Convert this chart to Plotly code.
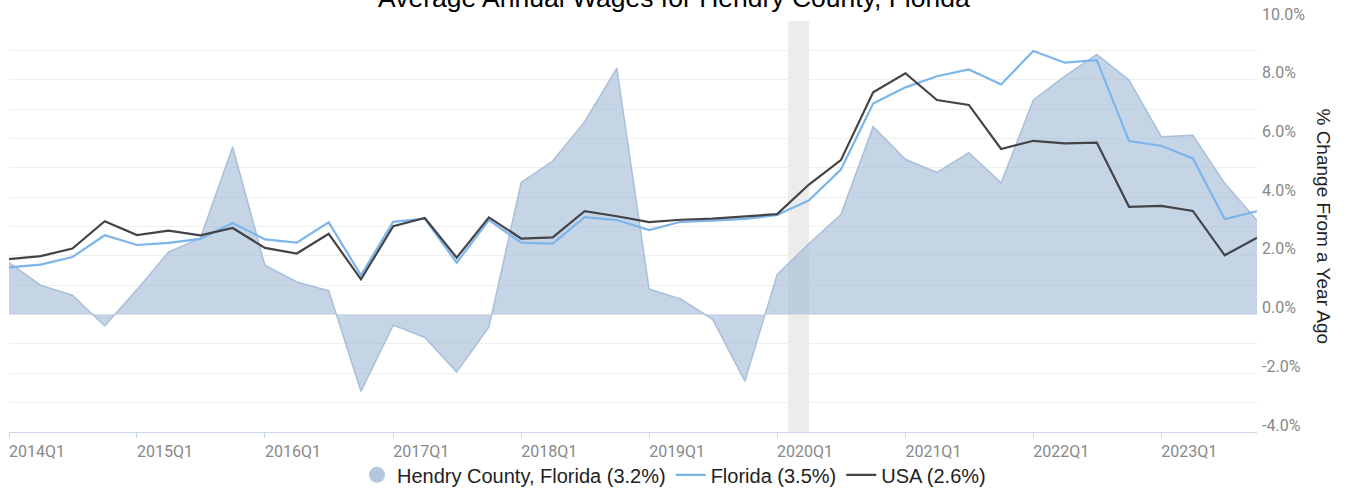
import plotly.graph_objects as go

quarters = [f"{y}-{m:02d}-01" for y in range(2014, 2024) for m in (1, 4, 7, 10)]

hendry = [1.77, 1.00, 0.66, -0.39, 0.85, 2.13, 2.61, 5.71, 1.68, 1.11,
          0.82, -2.62, -0.36, -0.78, -1.96, -0.42, 4.50, 5.23, 6.57, 8.39,
          0.87, 0.53, -0.16, -2.27, 1.36, 2.42, 3.41, 6.40, 5.29, 4.84,
          5.51, 4.49, 7.31, 8.12, 8.86, 7.99, 6.06, 6.11, 4.47, 3.21]

florida = [1.61, 1.70, 1.96, 2.70, 2.37, 2.44, 2.58, 3.12, 2.56, 2.45,
           3.14, 1.34, 3.16, 3.27, 1.77, 3.22, 2.45, 2.42, 3.32, 3.22,
           2.88, 3.16, 3.20, 3.26, 3.39, 3.89, 4.94, 7.19, 7.74, 8.12,
           8.35, 7.84, 8.98, 8.58, 8.67, 5.91, 5.75, 5.32, 3.25, 3.52]

usa = [1.89, 1.99, 2.25, 3.18, 2.71, 2.86, 2.70, 2.95, 2.27, 2.08,
       2.75, 1.20, 3.01, 3.29, 1.94, 3.31, 2.59, 2.63, 3.52, 3.35,
       3.15, 3.23, 3.27, 3.35, 3.42, 4.43, 5.26, 7.57, 8.22, 7.31,
       7.14, 5.64, 5.92, 5.83, 5.86, 3.67, 3.70, 3.53, 2.02, 2.62]

series_names = ["Hendry County, Florida (3.2%)", "Florida (3.5%)", "USA (2.6%)"]

x_tick_vals = [f"{y}-01-01" for y in range(2014, 2024)]
x_tick_text = [f"{y}Q1" for y in range(2014, 2024)]

y_tick_vals = [-4, -2, 0, 2, 4, 6, 8, 10]
y_tick_text = ["-4.0%", "-2.0%", "0.0%", "2.0%", "4.0%", "6.0%", "8.0%", "10.0%"]

recession = ("2020-02-01", "2020-04-01")

title_text = "Average Annual Wages for Hendry County, Florida"
y_title = "% Change From a Year Ago"

FONT = "Roboto"
SANS = "Liberation Sans, Arial, sans-serif"
AREA_FILL = "rgba(160,185,213,0.6)"
AREA_LINE = "rgba(160,185,213,0.85)"
AREA_LEG = "#b5c7dc"
FL_COLOR = "#7cb5ec"
US_COLOR = "#434348"

fig = go.Figure()

fig.add_trace(go.Scatter(
    x=quarters, y=hendry, mode="lines", fill="tozeroy",
    fillcolor=AREA_FILL, line=dict(color=AREA_LINE, width=1.5),
    name=series_names[0], showlegend=False, hoverinfo="skip"))
fig.add_trace(go.Scatter(
    x=[None], y=[None], mode="markers",
    marker=dict(size=16, color=AREA_LEG, symbol="circle"),
    name=series_names[0], legendrank=1))
fig.add_trace(go.Scatter(
    x=quarters, y=florida, mode="lines",
    line=dict(color=FL_COLOR, width=2.2), name=series_names[1], legendrank=2))
fig.add_trace(go.Scatter(
    x=quarters, y=usa, mode="lines",
    line=dict(color=US_COLOR, width=2.2), name=series_names[2], legendrank=3))

fig.add_shape(type="rect", xref="x", yref="paper",
              x0=recession[0], x1=recession[1], y0=0, y1=1,
              fillcolor="#ececec", line=dict(width=0), layer="between")

fig.update_layout(
    width=1348, height=490,
    margin=dict(l=9, r=91, t=21, b=58, pad=0),
    paper_bgcolor="white", plot_bgcolor="white",
    font=dict(family=FONT, color="#333333"),
    showlegend=True,
    legend=dict(orientation="h", xref="container", yref="container",
                x=0.5, xanchor="center", y=0.031, yanchor="middle",
                font=dict(family=SANS, size=20, color="#222222"),
                itemwidth=30, traceorder="normal",
                bgcolor="rgba(0,0,0,0)"),
    xaxis=dict(type="date", range=[quarters[0], quarters[-1]],
               tickvals=x_tick_vals, ticktext=x_tick_text,
               showgrid=False, zeroline=False,
               showline=True, linecolor="#ccd6eb", linewidth=1,
               ticks="outside", ticklen=5, tickcolor="#ccd6eb",
               tickfont=dict(family=FONT, size=16, color="#888888"),
               ticklabelshift=28, automargin=False),
    yaxis=dict(side="right", range=[-4, 10],
               tickvals=y_tick_vals, ticktext=y_tick_text,
               showgrid=True, gridcolor="#efefef", gridwidth=1,
               minor=dict(dtick=1, tick0=0, showgrid=True, gridcolor="#efefef"),
               zeroline=False, showline=False, ticks="",
               tickfont=dict(family=FONT, size=16, color="#888888"),
               ticklabelshift=-7, ticklabelstandoff=4, automargin=False),
    annotations=[
        dict(text=title_text, xref="paper", yref="paper",
             x=(674 - 9) / 1248, y=1.057, xanchor="center", yanchor="middle",
             showarrow=False,
             font=dict(family=SANS, size=26.5, color="#000000")),
        dict(text=y_title, textangle=90, xref="paper", yref="paper",
             x=1.0529, y=0.5, xanchor="center", yanchor="middle",
             showarrow=False,
             font=dict(family=SANS, size=19, color="#222222"))],
)

fig.write_html("out.html", config={"displayModeBar": False},
               post_script="document.body.style.margin='0';")
